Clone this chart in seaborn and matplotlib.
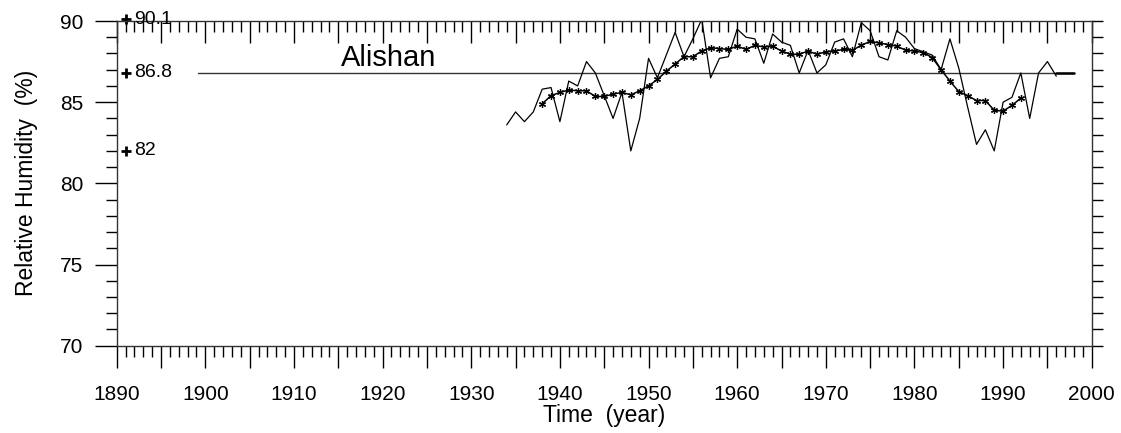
import numpy as np
import pandas as pd
import seaborn as sns
import matplotlib
matplotlib.use("Agg")
import matplotlib.pyplot as plt
from matplotlib.ticker import MultipleLocator

# Data
raw_years = list(range(1934, 1997))
raw_rh = [83.6, 84.4, 83.8, 84.4, 85.8, 85.9, 83.8, 86.3, 86.0, 87.5,
          86.8, 85.4, 84.0, 85.6, 82.0, 84.0, 87.7, 86.5, 87.9, 89.3,
          87.8, 88.9, 90.1, 86.5, 87.7, 87.8, 89.5, 89.0, 88.9, 87.4,
          89.2, 88.7, 88.5, 86.8, 88.2, 86.8, 87.3, 88.7, 88.9, 87.8,
          89.9, 89.4, 87.8, 87.6, 89.4, 89.0, 88.3, 88.1, 87.9, 87.0,
          88.9, 87.1, 84.7, 82.4, 83.3, 82.0, 85.0, 85.3, 86.8, 84.0,
          86.8, 87.5, 86.6]

smooth_years = list(range(1938, 1993))
smooth_rh = [84.9, 85.4, 85.6, 85.75, 85.7, 85.7, 85.35, 85.35, 85.5, 85.6,
             85.45, 85.7, 86.0, 86.4, 86.9, 87.35, 87.8, 87.8, 88.15, 88.35,
             88.3, 88.25, 88.45, 88.25, 88.5, 88.4, 88.45, 88.15, 87.95, 87.95,
             88.15, 87.95, 88.1, 88.15, 88.25, 88.2, 88.5, 88.75, 88.65, 88.55,
             88.45, 88.2, 88.15, 88.05, 87.75, 87.0, 86.3, 85.65, 85.4, 85.1,
             85.1, 84.5, 84.45, 84.8, 85.25]

stat_values = [90.1, 86.8, 82]      # max, mean, min
stat_labels = ["90.1", "86.8", "82"]
mean_rh = 86.8
station = "Alishan"

raw_df = pd.DataFrame({"year": raw_years, "rh": raw_rh})
smooth_df = pd.DataFrame({"year": smooth_years, "rh": smooth_rh})

sns.set_style("white")
plt.rcParams["font.family"] = ["Liberation Sans", "DejaVu Sans"]
plt.rcParams["text.color"] = "black"
plt.rcParams["axes.labelcolor"] = "black"
plt.rcParams["xtick.color"] = "black"
plt.rcParams["ytick.color"] = "black"

fig = plt.figure(figsize=(11.21, 4.33), dpi=100)
ax = fig.add_axes([0.1041, 0.2016, 0.8698, 0.7499])

# mean line
ax.plot([1899.2, 1998], [mean_rh, mean_rh], color="#333333", lw=1)
ax.plot([1996, 1998], [mean_rh, mean_rh], color="black", lw=1.8)

sns.lineplot(data=raw_df, x="year", y="rh", ax=ax, color="black", lw=0.9)
sns.lineplot(data=smooth_df, x="year", y="rh", ax=ax, color="black", lw=1.1,
             marker=(6, 2, 0), markersize=5, markeredgewidth=0.9,
             markeredgecolor="black")

# max / mean / min markers on the left
for v, lab in zip(stat_values, stat_labels):
    ax.plot(1891, v, marker="+", color="black", markersize=7, mew=2,
            clip_on=False)
    ax.text(1892, v, lab, fontsize=14, va="center", ha="left", clip_on=False)

ax.text(1915.3, 87.75, station, fontsize=21, va="center", ha="left")

ax.set_xlim(1890, 2000)
ax.set_ylim(70, 90)

ax.xaxis.set_minor_locator(MultipleLocator(1))
ax.set_xticks(np.arange(1890, 2001, 5))
ax.set_xticklabels([str(y) if y % 10 == 0 else "" for y in range(1890, 2001, 5)])
ax.yaxis.set_major_locator(MultipleLocator(5))
ax.yaxis.set_minor_locator(MultipleLocator(1))

ax.tick_params(axis="both", which="major", direction="out", length=16,
               width=1, color="black", labelsize=15, top=False, right=False,
               bottom=True, left=True)
ax.tick_params(axis="both", which="minor", direction="out", length=8,
               width=1, color="black", top=False, right=False,
               bottom=True, left=True)
ax.tick_params(axis="x", which="major", pad=12)
ax.tick_params(axis="y", which="major", pad=8)

# top axis: inward ticks, no labels
top = ax.secondary_xaxis("top")
top.xaxis.set_major_locator(MultipleLocator(5))
top.xaxis.set_minor_locator(MultipleLocator(1))
top.tick_params(which="major", direction="in", length=16, width=1,
                labeltop=False)
top.tick_params(which="minor", direction="in", length=8, width=1)
top.spines["top"].set_visible(False)

# right axis: outward ticks every unit, no labels
right = ax.secondary_yaxis("right")
right.yaxis.set_major_locator(MultipleLocator(1))
right.tick_params(which="major", direction="out", length=8, width=1,
                  labelright=False)
right.spines["right"].set_visible(False)

for s in ax.spines.values():
    s.set_visible(True)
    s.set_color("#333333")
    s.set_linewidth(1)

ax.set_xlabel("Time  (year)", fontsize=16.5, labelpad=0)
ax.set_ylabel("Relative Humidity  (%)", fontsize=16.5, labelpad=16)

fig.savefig("out.png", dpi=100)
